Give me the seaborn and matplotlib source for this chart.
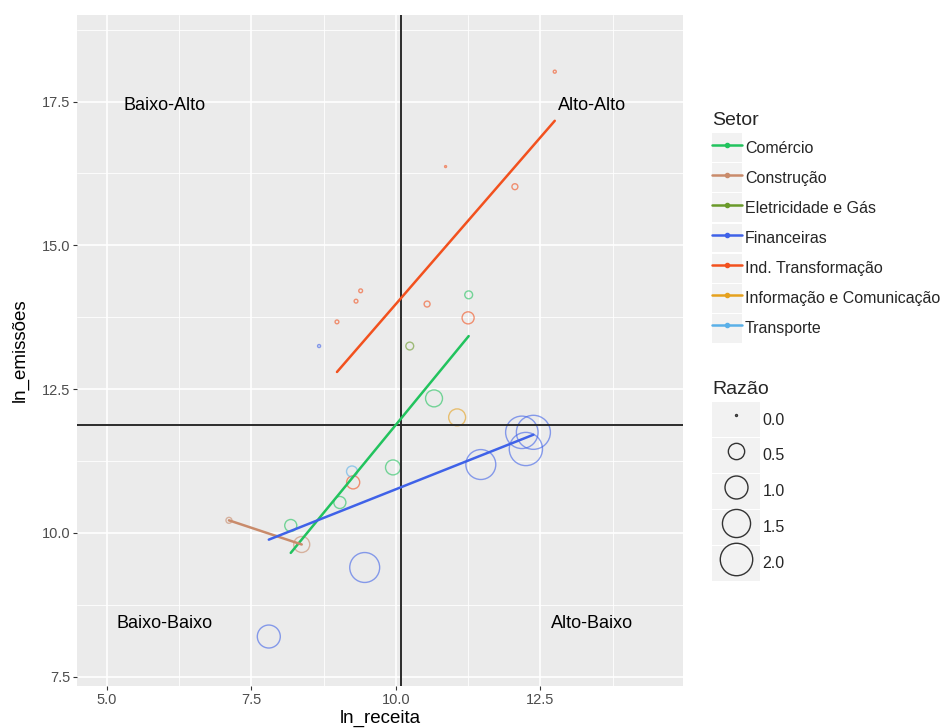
import numpy as np
import pandas as pd
import matplotlib.pyplot as plt
import seaborn as sns
from matplotlib.lines import Line2D
from matplotlib.patches import Rectangle
from matplotlib.legend_handler import HandlerLine2D
from matplotlib.ticker import MultipleLocator, FormatStrFormatter

# Setores e cores
setores = ['Comércio', 'Construção', 'Eletricidade e Gás', 'Financeiras',
           'Ind. Transformação', 'Informação e Comunicação', 'Transporte']
cores = ['#22C35E', '#C98B6B', '#6A9A2A', '#3F62E8', '#F2511E', '#E5A11E', '#5AB0E8']

# Dados
setor = (['Comércio'] * 5 + ['Construção'] * 2 + ['Eletricidade e Gás']
         + ['Financeiras'] * 7 + ['Ind. Transformação'] * 9
         + ['Informação e Comunicação'] + ['Transporte'])
ln_receita = [11.26, 10.66, 9.95, 9.03, 8.18,
              7.11, 8.37,
              10.24,
              8.67, 7.80, 9.46, 11.47, 12.18, 12.38, 12.25,
              12.75, 12.06, 10.86, 9.39, 9.31, 8.98, 10.54, 11.25, 9.26,
              11.06,
              9.24]
ln_emissoes = [14.14, 12.34, 11.14, 10.53, 10.13,
               10.22, 9.80,
               13.25,
               13.25, 8.20, 9.40, 11.19, 11.75, 11.75, 11.46,
               18.02, 16.02, 16.37, 14.21, 14.03, 13.67, 13.98, 13.74, 10.88,
               12.01,
               11.07]
razao = [0.11, 0.54, 0.42, 0.27, 0.27,
         0.06, 0.48,
         0.11,
         0.01, 1.0, 1.7, 1.7, 2.0, 2.2, 2.1,
         0.01, 0.06, 0.0, 0.02, 0.02, 0.02, 0.06, 0.27, 0.32,
         0.54,
         0.22]

razao_legenda = [0.0, 0.5, 1.0, 1.5, 2.0]
quadrantes = ['Baixo-Alto', 'Alto-Alto', 'Baixo-Baixo', 'Alto-Baixo']
quad_x = [6.0, 13.4, 6.0, 13.4]
quad_y = [17.43, 17.43, 8.43, 8.43]

df = pd.DataFrame({'Setor': setor, 'ln_receita': ln_receita,
                   'ln_emissoes': ln_emissoes, 'Razao': razao})
paleta = dict(zip(setores, cores))

sns.set_theme(style='darkgrid', rc={'axes.facecolor': '#EBEBEB'})
plt.rcParams['font.family'] = ['Liberation Sans', 'DejaVu Sans']

fig = plt.figure(figsize=(9.46, 7.28), dpi=100)
ax = fig.add_axes([0.0814, 0.0577, 0.6406, 0.9213])

SMIN, SMAX, RMAX = 2, 600, 2.2

sns.scatterplot(data=df, x='ln_receita', y='ln_emissoes', hue='Setor',
                hue_order=setores, palette=paleta, size='Razao',
                sizes=(SMIN, SMAX), size_norm=(0, RMAX), alpha=0.6,
                legend=False, ax=ax)
pts = ax.collections[-1]
fc = pts.get_facecolors()
pts.set_edgecolors(fc)
pts.set_facecolors('none')
pts.set_linewidths(1.0)

# retas de regressao por setor
for s in setores:
    sub = df[df['Setor'] == s]
    if len(sub) > 1:
        sns.regplot(data=sub, x='ln_receita', y='ln_emissoes', scatter=False,
                    ci=None, color=paleta[s], line_kws={'lw': 1.8}, ax=ax)

# medianas
ax.axvline(np.median(df['ln_receita']), color='#2B2B2B', lw=1.4, zorder=1.5)
ax.axhline(np.median(df['ln_emissoes']), color='#2B2B2B', lw=1.4, zorder=1.5)

for t, x, y in zip(quadrantes, quad_x, quad_y):
    ax.text(x, y, t, ha='center', va='center', fontsize=13, color='black')

ax.set_xlim(4.48, 14.97)
ax.set_ylim(7.34, 19.0)
ax.xaxis.set_major_locator(MultipleLocator(2.5))
ax.xaxis.set_minor_locator(MultipleLocator(1.25))
ax.yaxis.set_major_locator(MultipleLocator(2.5))
ax.yaxis.set_minor_locator(MultipleLocator(1.25))
ax.xaxis.set_major_formatter(FormatStrFormatter('%.1f'))
ax.yaxis.set_major_formatter(FormatStrFormatter('%.1f'))
ax.grid(which='major', color='white', lw=1.2)
ax.grid(which='minor', color='white', lw=0.6)
ax.tick_params(which='major', length=3, width=0.8, color='#333333',
               labelsize=10.5, labelcolor='#4D4D4D', pad=2, left=True, bottom=True)
ax.tick_params(which='minor', length=0)
for sp in ax.spines.values():
    sp.set_visible(False)
ax.set_xlabel('ln_receita', fontsize=13.5, color='black', labelpad=2)
ax.set_ylabel('ln_emissões', fontsize=13.5, color='black', labelpad=9)


class KeyHandler(HandlerLine2D):
    def create_artists(self, legend, orig_handle, xdescent, ydescent,
                       width, height, fontsize, trans):
        pad = legend.labelspacing * fontsize / 2 - 0.4
        bg = Rectangle((-xdescent, -ydescent - pad), width, height + 2 * pad,
                       facecolor='#F2F2F2', edgecolor='none', transform=trans)
        arts = super().create_artists(legend, orig_handle, xdescent, ydescent,
                                      width, height, fontsize, trans)
        return [bg] + arts


h_setor = [Line2D([0], [0], color=c, lw=1.8, marker='o', ms=3) for c in cores]
leg1 = fig.legend(h_setor, setores, title='Setor', loc='upper left',
                  bbox_to_anchor=(0.746, 0.855), frameon=False, fontsize=11.5,
                  title_fontsize=14, handlelength=1.9, handleheight=1.78,
                  labelspacing=0.48, handletextpad=0.15, borderaxespad=0,
                  handler_map={Line2D: KeyHandler()})
leg1._legend_box.align = 'left'

h_razao = [Line2D([0], [0], ls='none', marker='o', mfc='none', mec='#333333',
                  mew=1.0, ms=np.sqrt(SMIN + (SMAX - SMIN) * r / RMAX))
           for r in razao_legenda]
leg2 = fig.legend(h_razao, [f'{r:.1f}' for r in razao_legenda], title='Razão',
                  loc='upper left', bbox_to_anchor=(0.746, 0.486),
                  frameon=False, fontsize=11.5, title_fontsize=14,
                  handlelength=3.0, handleheight=2.32, labelspacing=0.5,
                  handletextpad=0.15, borderaxespad=0,
                  handler_map={Line2D: KeyHandler()})
leg2._legend_box.align = 'left'

fig.savefig('out.png', dpi=100)
